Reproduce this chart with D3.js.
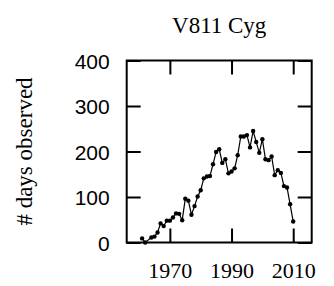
<!DOCTYPE html>
<html>
<head>
<meta charset="utf-8">
<script src="https://cdn.jsdelivr.net/npm/d3@7"></script>
<style>
    body { margin: 0; background: #fff; }
</style>
</head>
<body>
<script>
// data
const years = [1961, 1962, 1964, 1965, 1966, 1967, 1968, 1969, 1970, 1971,
    1972, 1973, 1974, 1975, 1976, 1977, 1978, 1979, 1980, 1981,
    1982, 1983, 1984, 1985, 1986, 1987, 1988, 1989, 1990, 1991,
    1992, 1993, 1994, 1995, 1996, 1997, 1998, 1999, 2000, 2001,
    2002, 2003, 2004, 2005, 2006, 2007, 2008, 2009, 2010];
const daysObserved = [9, 0, 11, 13, 22, 42, 36, 48, 48, 55,
    64, 63, 49, 96, 92, 61, 80, 101, 115, 141,
    145, 146, 172, 199, 205, 175, 183, 152, 156, 163,
    192, 233, 233, 236, 209, 245, 221, 197, 227, 183,
    181, 189, 148, 159, 153, 124, 121, 84, 46];
const xTicks = [1970, 1990, 2010];
const yTicks = [0, 100, 200, 300, 400];
const title = 'V811 Cyg';
const yLabel = '# days observed';

const chartConfig = {
    w: 334,
    h: 286,
    left: 126.7,
    right: 311.7,
    top: 60.5,
    bottom: 242.5
};

const data = years.map(function(y, i) {
    return { year: y, days: daysObserved[i] };
});

const svg = d3.select('body')
    .append('svg')
    .attr('width', chartConfig.w)
    .attr('height', chartConfig.h);

// SCALE

const xScale = d3.scaleLinear()
    .domain([1956, 2016])
    .range([chartConfig.left, chartConfig.right]);

const yScale = d3.scaleLinear()
    .domain([0, 400])
    .range([chartConfig.bottom, chartConfig.top]);

// AXES (ticks point inward, on all four sides)

const tick = 14;

const xAxis = svg.append('g')
    .attr('transform', 'translate(0,' + chartConfig.bottom + ')')
    .call(d3.axisBottom(xScale).tickValues(xTicks).tickFormat(d3.format('d'))
        .tickSizeInner(-tick).tickSizeOuter(0).tickPadding(20));
xAxis.selectAll('text')
    .attr('font-family', '"Liberation Serif", serif')
    .attr('font-size', '22px')
    .attr('fill', '#000');

svg.append('g')
    .attr('transform', 'translate(0,' + chartConfig.top + ')')
    .call(d3.axisTop(xScale).tickValues(xTicks).tickFormat('')
        .tickSizeInner(-tick).tickSizeOuter(0));

const yAxis = svg.append('g')
    .attr('transform', 'translate(' + chartConfig.left + ',0)')
    .call(d3.axisLeft(yScale).tickValues(yTicks)
        .tickSizeInner(-tick).tickSizeOuter(0).tickPadding(17));
yAxis.selectAll('text')
    .attr('font-family', '"Liberation Sans", Arial, sans-serif')
    .attr('font-size', '21px')
    .attr('dy', '0.36em')
    .attr('fill', '#000');

svg.append('g')
    .attr('transform', 'translate(' + chartConfig.right + ',0)')
    .call(d3.axisRight(yScale).tickValues(yTicks).tickFormat('')
        .tickSizeInner(-tick).tickSizeOuter(0));

svg.selectAll('.domain').remove();
svg.selectAll('.tick line')
    .attr('stroke', '#000')
    .attr('stroke-width', 2);

// FRAME

svg.append('rect')
    .attr('x', chartConfig.left)
    .attr('y', chartConfig.top)
    .attr('width', chartConfig.right - chartConfig.left)
    .attr('height', chartConfig.bottom - chartConfig.top)
    .attr('fill', 'none')
    .attr('stroke', '#000')
    .attr('stroke-width', 2);

// LINE

const line = d3.line()
    .x(function(d) { return xScale(d.year); })
    .y(function(d) { return yScale(d.days); });

svg.append('path')
    .datum(data)
    .attr('d', line)
    .attr('fill', 'none')
    .attr('stroke', '#000')
    .attr('stroke-width', 1.2);

// POINTS

svg.selectAll('circle')
    .data(data)
    .enter()
    .append('circle')
    .attr('cx', function(d) { return xScale(d.year); })
    .attr('cy', function(d) { return yScale(d.days); })
    .attr('r', 2.2)
    .attr('fill', '#000');

// TITLES

svg.append('text')
    .attr('x', (chartConfig.left + chartConfig.right) / 2)
    .attr('y', 33)
    .attr('text-anchor', 'middle')
    .attr('font-family', '"Liberation Serif", serif')
    .attr('font-size', '23px')
    .text(title);

svg.append('text')
    .attr('transform', 'translate(32,' + (chartConfig.top + chartConfig.bottom) / 2 + ') rotate(-90)')
    .attr('text-anchor', 'middle')
    .attr('font-family', '"Liberation Serif", serif')
    .attr('font-size', '23px')
    .text(yLabel);
</script>
</body>
</html>
